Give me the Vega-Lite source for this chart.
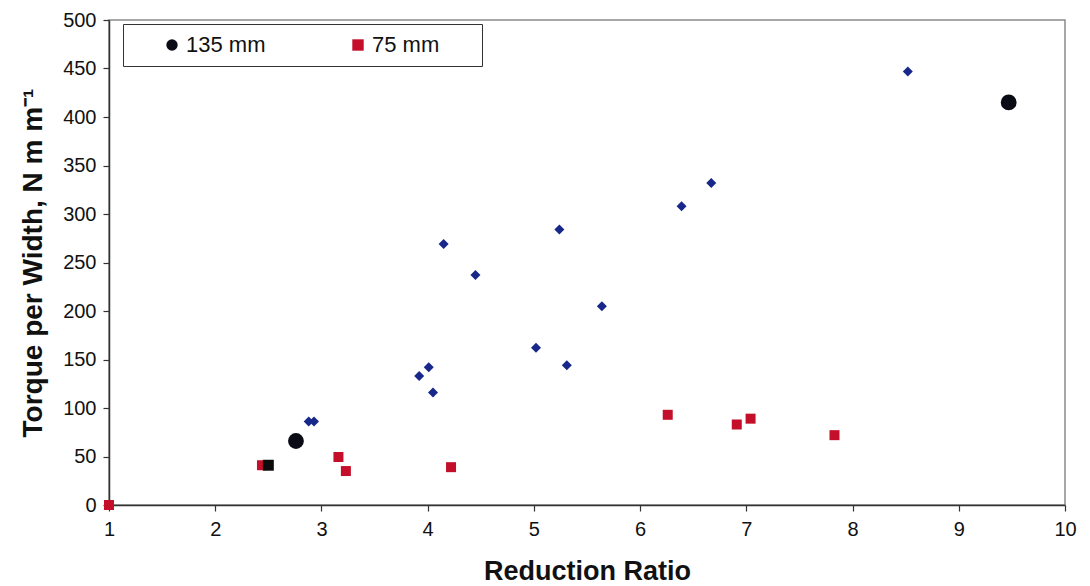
{
  "$schema": "https://vega.github.io/schema/vega-lite/v6.json",
  "width": 956,
  "height": 485,
  "autosize": {"type": "none"},
  "padding": {"left": 109, "top": 20, "right": 25, "bottom": 81},
  "background": "white",
  "config": {
    "font": "Liberation Sans",
    "view": {"stroke": "#8a8a8a", "strokeWidth": 1.5},
    "axis": {"grid": false, "labelFlush": false, "domainColor": "#333333", "domainWidth": 1.5, "tickColor": "#333333", "tickWidth": 1.2, "tickSize": 6, "labelColor": "#111111", "labelFontSize": 20, "labelFont": "Liberation Sans", "titleFont": "Liberation Sans", "titleFontSize": 27, "titleFontWeight": "bold", "titleColor": "#111111"}
  },
  "data": {
    "values": [
      {"x": 8.52, "y": 447, "series": "blue"},
      {"x": 6.67, "y": 332, "series": "blue"},
      {"x": 6.39, "y": 308, "series": "blue"},
      {"x": 5.24, "y": 284, "series": "blue"},
      {"x": 4.15, "y": 269, "series": "blue"},
      {"x": 4.45, "y": 237, "series": "blue"},
      {"x": 5.64, "y": 205, "series": "blue"},
      {"x": 5.02, "y": 162, "series": "blue"},
      {"x": 5.31, "y": 144, "series": "blue"},
      {"x": 4.01, "y": 142, "series": "blue"},
      {"x": 3.92, "y": 133, "series": "blue"},
      {"x": 4.05, "y": 116, "series": "blue"},
      {"x": 2.88, "y": 86, "series": "blue"},
      {"x": 2.93, "y": 86, "series": "blue"},
      {"x": 1.0, "y": 0, "series": "75 mm"},
      {"x": 2.44, "y": 41, "series": "75 mm"},
      {"x": 3.16, "y": 49.5, "series": "75 mm"},
      {"x": 3.23, "y": 35, "series": "75 mm"},
      {"x": 4.22, "y": 39, "series": "75 mm"},
      {"x": 6.26, "y": 93, "series": "75 mm"},
      {"x": 6.91, "y": 83, "series": "75 mm"},
      {"x": 7.04, "y": 89, "series": "75 mm"},
      {"x": 7.83, "y": 72, "series": "75 mm"},
      {"x": 2.76, "y": 66, "series": "135 mm"},
      {"x": 9.47, "y": 415, "series": "135 mm"},
      {"x": 2.5, "y": 41, "series": "sq"}
    ]
  },
  "encoding": {
    "x": {"field": "x", "type": "quantitative", "scale": {"domain": [1, 10], "nice": false, "zero": false}, "axis": {"values": [1,2,3,4,5,6,7,8,9,10], "title": "Reduction Ratio", "labelPadding": 8, "titlePadding": 19}},
    "y": {"field": "y", "type": "quantitative", "scale": {"domain": [0, 500], "nice": false}, "axis": {"values": [0,50,100,150,200,250,300,350,400,450,500], "title": "Torque per Width, N m m⁻¹", "titleFontSize": 28, "labelPadding": 7, "titlePadding": 15}},
    "color": {"field": "series", "type": "nominal", "scale": {"domain": ["135 mm", "75 mm", "blue", "sq"], "range": ["#0b0b16", "#c40f2a", "#17288a", "#0b0b0b"]},
      "legend": {"values": ["135 mm", "75 mm"], "title": null, "orient": "none", "legendX": 14, "legendY": 4, "direction": "horizontal", "strokeColor": "#333333", "padding": 10, "symbolOffset": 28, "symbolSize": 130, "labelFontSize": 22, "labelColor": "#111111", "labelOffset": 3, "columnPadding": 53, "fillColor": "white", "labelExpr": "datum.label == '75 mm' ? datum.label + '\u2800\u2800' : datum.label"}},
    "shape": {"field": "series", "type": "nominal", "scale": {"domain": ["135 mm", "75 mm", "blue", "sq"], "range": ["circle", "square", "diamond", "square"]}}
  },
  "layer": [
    {"transform": [{"filter": "datum.series == 'blue'"}], "mark": {"type": "point", "filled": true, "opacity": 1, "size": 100}},
    {"transform": [{"filter": "datum.series == '75 mm'"}], "mark": {"type": "point", "filled": true, "opacity": 1, "size": 100}},
    {"transform": [{"filter": "datum.series == 'sq'"}], "mark": {"type": "point", "filled": true, "opacity": 1, "size": 120}},
    {"transform": [{"filter": "datum.series == '135 mm'"}], "mark": {"type": "point", "filled": true, "opacity": 1, "size": 250}}
  ]
}
